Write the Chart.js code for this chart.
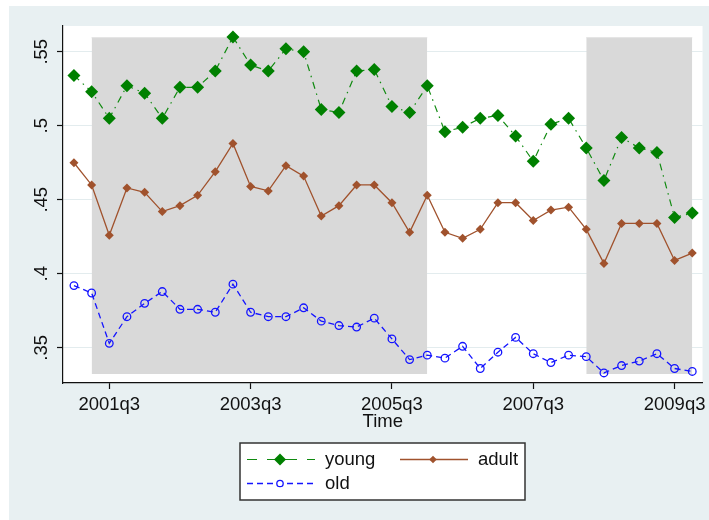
<!DOCTYPE html>
<html>
<head>
<meta charset="utf-8">
<script src="https://cdn.jsdelivr.net/npm/chart.js@4.4.0/dist/chart.umd.min.js"></script>
<style>
  html, body { margin: 0; padding: 0; background: #fff; }
  #wrap { width: 709px; height: 520px; }
</style>
</head>
<body>
<div id="wrap"><canvas id="chart" width="709" height="520"></canvas></div>
<script>
// --- DATA ---
const quarters = [
  '2001q1', '2001q2', '2001q3', '2001q4', '2002q1', '2002q2', '2002q3', '2002q4',
  '2003q1', '2003q2', '2003q3', '2003q4', '2004q1', '2004q2', '2004q3', '2004q4',
  '2005q1', '2005q2', '2005q3', '2005q4', '2006q1', '2006q2', '2006q3', '2006q4',
  '2007q1', '2007q2', '2007q3', '2007q4', '2008q1', '2008q2', '2008q3', '2008q4',
  '2009q1', '2009q2', '2009q3', '2009q4'
];
const young = [.534, .523, .505, .527, .522, .505, .526, .526, .537, .560, .541, .537,
               .552, .550, .511, .509, .537, .538, .513, .509, .527, .496, .499, .505,
               .507, .493, .476, .501, .505, .485, .463, .492, .485, .482, .438, .441];
const adult = [.475, .460, .426, .458, .455, .442, .446, .453, .469, .488, .459, .456,
               .473, .466, .439, .446, .460, .460, .448, .428, .453, .428, .424, .430,
               .448, .448, .436, .443, .445, .430, .407, .434, .434, .434, .409, .414];
const old   = [.392, .387, .353, .371, .380, .388, .376, .376, .374, .393, .374, .371,
               .371, .377, .368, .365, .364, .370, .356, .342, .345, .343, .351, .336,
               .347, .357, .346, .340, .345, .344, .333, .338, .341, .346, .336, .334];

// shaded periods (quarter index), and their vertical extent
const bandStart = [1, 29];
const bandEnd = [20, 35];
const bandLow = 0.3322;
const bandHigh = 0.5595;

const xTickLabels = ['2001q3', '2003q3', '2005q3', '2007q3', '2009q3'];
const yTicks = [0.35, 0.40, 0.45, 0.50, 0.55];
const yTickLabels = ['.35', '.4', '.45', '.5', '.55'];

// --- STYLE ---
Chart.defaults.font.family = '"Liberation Sans", Arial, sans-serif';
Chart.defaults.font.size = 18.5;
Chart.defaults.color = '#111';

const toPts = arr => arr.map((v, i) => ({ x: i, y: v }));

const backdrop = {
    id: 'backdrop',
    beforeDraw(chart) {
        const { ctx, chartArea: a, width, height } = chart;
        ctx.save();
        ctx.fillStyle = '#fff';
        ctx.fillRect(0, 0, width, height);
        ctx.fillStyle = '#E8F0F2';
        ctx.fillRect(9, 6, width - 9, height - 6);
        ctx.fillStyle = '#fff';
        ctx.fillRect(a.left, a.top, a.right - a.left, a.bottom - a.top);
        ctx.restore();
    }
};

// Stata-style legend box below the axis title
const stataLegend = {
    id: 'stataLegend',
    afterDraw(chart) {
        const ctx = chart.ctx;
        ctx.save();
        ctx.fillStyle = '#fff';
        ctx.fillRect(240, 443, 285, 57);
        ctx.strokeStyle = '#333';
        ctx.lineWidth = 1.5;
        ctx.strokeRect(240, 443, 285, 57);

        const slots = [{ i: 0, x: 247, y: 459.5 }, { i: 1, x: 400, y: 459.5 }, { i: 2, x: 247, y: 483.5 }];
        slots.forEach(s => {
            const ds = chart.data.datasets[s.i];
            ctx.strokeStyle = ds.borderColor;
            ctx.lineWidth = ds.borderWidth;
            ctx.setLineDash(ds.legendDash || ds.borderDash || []);
            ctx.beginPath();
            ctx.moveTo(s.x, s.y);
            ctx.lineTo(s.x + 68, s.y);
            ctx.stroke();
            ctx.setLineDash([]);

            ctx.fillStyle = ds.pointBackgroundColor === 'rgba(0,0,0,0)' ? '#fff' : ds.pointBackgroundColor;
            ctx.strokeStyle = ds.pointBorderColor;
            ctx.lineWidth = ds.pointBorderWidth;
            Chart.helpers.drawPoint(ctx, {
                pointStyle: ds.pointStyle, rotation: 0,
                radius: ds.legendRadius, borderWidth: ds.pointBorderWidth
            }, s.x + 33, s.y);

            ctx.fillStyle = '#111';
            ctx.font = '18.5px "Liberation Sans", Arial, sans-serif';
            ctx.textBaseline = 'middle';
            ctx.textAlign = 'left';
            ctx.fillText(ds.label, s.x + 78, s.y);
        });
        ctx.restore();
    }
};

const bandSets = bandStart.map((s, k) => ({
    label: 'band',
    data: [{ x: s, y: bandHigh }, { x: bandEnd[k], y: bandHigh }],
    fill: { value: bandLow },
    backgroundColor: '#D9D9D9',
    borderColor: '#E0E0E0',
    borderWidth: 1,
    pointRadius: 0,
    order: 10
}));

new Chart(document.getElementById('chart'), {
    type: 'line',
    data: {
        datasets: [
            {
                label: 'young', data: toPts(young), order: 1,
                borderColor: '#108A10', borderWidth: 1.2, borderDash: [7, 5, 1.5, 5], legendDash: [10, 10, 30, 10],
                pointStyle: 'rectRot', pointRadius: 6.5, legendRadius: 6,
                pointBackgroundColor: '#008000', pointBorderColor: '#008000', pointBorderWidth: 0
            },
            {
                label: 'adult', data: toPts(adult), order: 2,
                borderColor: '#A0522D', borderWidth: 1.3,
                pointStyle: 'rectRot', pointRadius: 4.5, legendRadius: 3.8,
                pointBackgroundColor: '#A0522D', pointBorderColor: '#A0522D', pointBorderWidth: 0
            },
            {
                label: 'old', data: toPts(old), order: 3,
                borderColor: '#1414FF', borderWidth: 1.3, borderDash: [6, 4],
                pointStyle: 'circle', pointRadius: 3.8, legendRadius: 3.2,
                pointBackgroundColor: 'rgba(0,0,0,0)', pointBorderColor: '#1414FF', pointBorderWidth: 1.3
            },
            ...bandSets
        ]
    },
    options: {
        responsive: false,
        animation: false,
        layout: { padding: { left: 9, top: 26, right: 6, bottom: 87 } },
        plugins: { legend: { display: false }, tooltip: { enabled: false } },
        scales: {
            x: {
                type: 'linear', min: -0.62, max: 35.58,
                afterBuildTicks: s => { s.ticks = xTickLabels.map(l => ({ value: quarters.indexOf(l) })); },
                afterFit: s => { s.height = 50; s.paddingLeft = 0; s.paddingRight = 0; },
                ticks: { callback: (v, i) => xTickLabels[i], autoSkip: false, minRotation: 0, maxRotation: 0, padding: 5 },
                grid: { drawOnChartArea: false, tickLength: 6, tickColor: '#111', tickWidth: 1.2 },
                border: { color: '#111', width: 1.2 },
                title: { display: true, text: 'Time', padding: 0 }
            },
            y: {
                min: 0.3262, max: 0.5674,
                afterBuildTicks: s => { s.ticks = yTicks.map(v => ({ value: v })); },
                afterFit: s => { s.width = 54; s.paddingTop = 0; s.paddingBottom = 0; },
                ticks: { callback: (v, i) => yTickLabels[i], autoSkip: false, minRotation: 90, maxRotation: 90, crossAlign: 'center', padding: 2 },
                grid: { color: '#E3ECEE', lineWidth: 1, tickLength: 6, tickColor: '#111', tickWidth: 1.2 },
                border: { color: '#111', width: 1.2 }
            }
        }
    },
    plugins: [backdrop, stataLegend]
});
</script>
</body>
</html>
